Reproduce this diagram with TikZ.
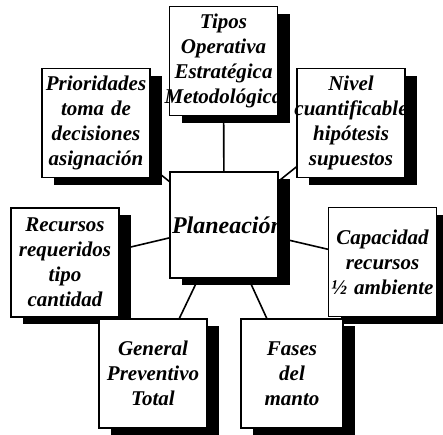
\documentclass[tikz,border=0pt]{standalone}
\usepackage{fontspec}
\setmainfont{Liberation Serif}
\usetikzlibrary{shadows,backgrounds}

\begin{document}
\begin{tikzpicture}[x=1pt,y=-1pt]
\tikzset{caja/.style={draw,line width=1.2pt,fill=white,minimum width=108pt,minimum height=109pt,
  text width=104pt,inner sep=2pt,align=center,font=\bfseries\itshape\fontsize{21}{25}\selectfont,
  drop shadow={shadow xshift=12pt,shadow yshift=-7pt,fill=black,opacity=1}}}
\tikzset{linea/.style={line width=1.6pt}}

\useasboundingbox (0,0) rectangle (443,434);

\path (223.5,61) node[caja] (tipos) {Tipos\\Operativa\\Estratégica\\\makebox[\hsize]{Metodológica}};
\path (96,123) node[caja] (prior) {Prioridades\\toma de\\decisiones\\asignación};
\path (351,123) node[caja] (nivel) {Nivel\\\makebox[\hsize]{cuantificable}\\hipótesis\\supuestos};
\path (224,225) node[caja,minimum height=106pt,font=\bfseries\itshape\fontsize{24}{28}\selectfont] (plan) {Planeación};
\path (65,262.5) node[caja] (rec) {Recursos\\requeridos\\tipo\\cantidad};
\path (382.5,262) node[caja] (cap) {Capacidad\\recursos\\½ ambiente};
\path (153,373.5) node[caja] (gen) {General\\Preventivo\\Total};
\path (292,373.5) node[caja,minimum width=102pt,text width=98pt] (fases) {Fases\\del\\manto};

\begin{scope}[on background layer]
\draw[linea] (plan) -- (tipos);
\draw[linea] (plan) -- (prior);
\draw[linea] (plan) -- (nivel);
\draw[linea] (plan) -- (rec);
\draw[linea] (plan) -- (cap);
\draw[linea] (plan) -- (gen);
\draw[linea] (plan) -- (fases);
\end{scope}

\end{tikzpicture}
\end{document}
